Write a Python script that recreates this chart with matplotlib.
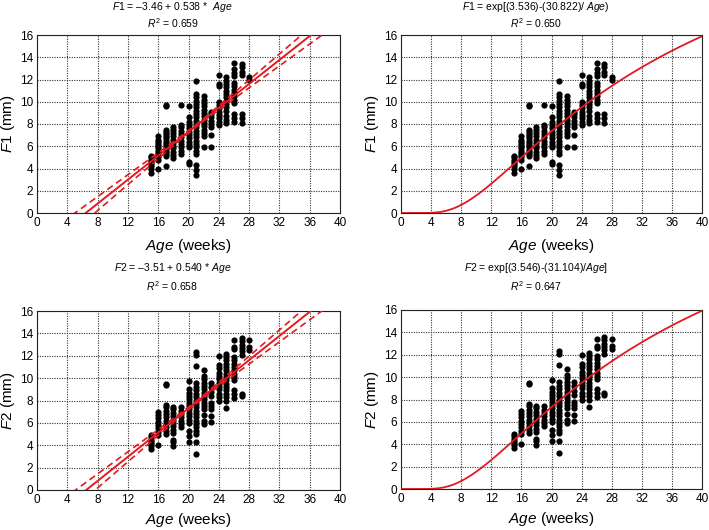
import numpy as np
import matplotlib
matplotlib.use("Agg")
import matplotlib.pyplot as plt

plt.rcParams["font.family"] = ["Liberation Sans", "DejaVu Sans"]
plt.rcParams["mathtext.fontset"] = "custom"
plt.rcParams["mathtext.rm"] = "Liberation Sans"
plt.rcParams["mathtext.it"] = "Liberation Sans:italic"

f1_by_age = {
    15: [3.6, 4.0, 4.2, 4.4, 4.6, 4.8, 5.0, 5.1],
    16: [4.0, 4.8, 5.0, 5.2, 5.4, 5.6, 5.8, 6.0, 6.2, 6.4, 6.6, 6.9],
    17: [4.2, 5.1, 5.3, 5.5, 5.7, 5.9, 6.1, 6.3, 6.5, 6.7, 6.9, 7.1, 7.3, 7.5, 9.6, 9.7],
    18: [4.9, 5.2, 5.5, 5.8, 6.0, 6.3, 6.6, 6.9, 7.2, 7.5, 7.7],
    19: [5.3, 5.6, 5.9, 6.2, 6.5, 6.8, 7.1, 7.4, 7.7, 7.9, 9.7],
    20: [4.4, 4.6, 5.9, 6.1, 6.4, 6.7, 7.0, 7.3, 7.6, 7.9, 8.2, 8.6, 9.6],
    21: [3.4, 3.9, 4.3, 5.3, 5.6, 5.9, 6.2, 6.5, 6.8, 7.1, 7.4, 7.7, 8.0, 8.3,
         8.6, 8.9, 9.2, 9.5, 9.8, 10.1, 10.4, 10.7, 11.9],
    22: [5.9, 6.9, 7.2, 7.5, 7.8, 8.1, 8.4, 8.7, 9.0, 9.3, 9.6, 9.9, 10.2, 10.5],
    23: [5.9, 7.0, 7.7, 8.0, 8.3, 8.6, 8.9, 9.1],
    24: [7.9, 8.2, 8.5, 8.8, 9.1, 9.4, 9.7, 10.0, 11.4, 11.6, 12.4],
    25: [8.1, 8.4, 8.7, 9.2, 9.5, 9.8, 10.1, 10.4, 10.7, 11.0, 11.3, 11.6, 11.9, 12.2],
    26: [8.2, 8.5, 8.9, 9.9, 10.2, 10.5, 10.8, 11.1, 11.4, 11.7, 12.3, 12.6, 12.9, 13.5],
    27: [8.1, 8.5, 8.9, 12.4, 12.7, 13.1, 13.4],
    28: [12.0, 12.2],
}

# F2 measurements (mm)
f2_by_age = {
    15: [3.7, 3.9, 4.1, 4.3, 4.5, 4.7, 4.9],
    16: [4.0, 4.9, 5.2, 5.5, 5.8, 6.1, 6.4, 6.7, 7.0],
    17: [5.0, 5.3, 5.6, 5.9, 6.2, 6.5, 6.8, 7.1, 7.4, 7.6, 9.4, 9.5],
    18: [3.9, 4.3, 4.5, 5.1, 5.4, 5.7, 6.0, 6.3, 6.6, 6.9, 7.2, 7.4],
    19: [5.6, 5.9, 6.2, 6.5, 6.8, 7.1, 7.4],
    20: [4.3, 4.8, 5.3, 6.0, 6.3, 6.6, 6.9, 7.2, 7.5, 7.8, 8.1, 8.4, 8.7, 9.0, 9.7],
    21: [3.2, 4.3, 5.0, 5.3, 5.6, 5.9, 6.2, 6.5, 6.8, 7.1, 7.4, 7.7, 8.0, 8.3,
         8.6, 8.9, 9.2, 9.6, 11.1, 12.1, 12.3],
    22: [5.9, 6.2, 6.7, 7.2, 7.5, 7.8, 8.1, 8.4, 8.7, 9.0, 9.3, 9.6, 9.9, 10.2, 10.7],
    23: [6.1, 6.6, 7.2, 7.5, 7.8, 8.4, 8.8, 9.2, 9.6],
    24: [8.0, 8.3, 8.6, 9.0, 9.3, 9.6, 9.9, 10.2, 10.5, 10.9, 11.2, 12.0],
    25: [7.3, 8.0, 8.3, 8.6, 8.9, 9.2, 9.5, 9.8, 10.1, 10.4, 10.7, 11.0, 11.3,
         11.6, 11.9, 12.2],
    26: [8.2, 8.6, 8.9, 9.8, 10.1, 10.4, 10.7, 11.0, 11.3, 11.6, 11.9, 12.6, 12.8, 13.4],
    27: [8.4, 8.6, 12.1, 12.4, 12.7, 13.0, 13.3, 13.6],
    28: [12.5, 12.8, 13.4],
}

# fitted models from the figure
lin_f1 = (-3.46, 0.538)
lin_f2 = (-3.51, 0.540)
exp_f1 = (3.536, 30.822)
exp_f2 = (3.546, 31.104)
# 95% band of the linear fit: half width = sqrt(h0^2 + (k*(x - xbar))^2)
band_xbar, band_h0, band_k = 21.0, 0.12, 0.047

red = "#e3191f"


def flatten(d):
    xs, ys = [], []
    for age, vals in d.items():
        xs += [age] * len(vals)
        ys += vals
    return np.array(xs), np.array(ys)


def style(ax, name, xlab_y):
    ax.set_xlim(0, 40)
    ax.set_ylim(0, 16)
    ax.set_xticks(range(0, 41, 4))
    ax.set_yticks(range(0, 17, 2))
    ax.grid(True, color="#333333", linestyle=(0, (1, 1.2)), linewidth=0.8)
    ax.tick_params(length=0, labelsize=8.5, pad=3)
    for s in ax.spines.values():
        s.set_linewidth(0.8)
        s.set_color("#222222")
    ax.set_xlabel(r"$\mathit{Age}$ (weeks)", fontsize=11)
    ax.set_ylabel(r"$\mathit{%s}$ (mm)" % name, fontsize=11)
    ax.xaxis.set_label_coords(0.5, xlab_y)
    ax.yaxis.set_label_coords(-0.065, 0.5)


fig = plt.figure(figsize=(7.09, 5.30), dpi=100)
W, H = 709, 530


def add_axes(x0, x1, y0, y1):
    return fig.add_axes([x0 / W, 1 - y1 / H, (x1 - x0) / W, (y1 - y0) / H])


axes = [
    add_axes(37, 340, 35, 213),
    add_axes(401, 702, 35, 213),
    add_axes(37, 340, 311, 490),
    add_axes(401, 702, 310, 489),
]

xx = np.linspace(0.01, 40, 400)
panels = [
    ("F1", f1_by_age, "lin", lin_f1, r"$\mathit{F1}$ = –3.46 + 0.538 *  $\mathit{Age}$", "0.659"),
    ("F1", f1_by_age, "exp", exp_f1, r"$\mathit{F1}$ = exp[(3.536)-(30.822)/ $\mathit{Age}$)", "0.650"),
    ("F2", f2_by_age, "lin", lin_f2, r"$\mathit{F2}$ = –3.51 + 0.540 * $\mathit{Age}$", "0.658"),
    ("F2", f2_by_age, "exp", exp_f2, r"$\mathit{F2}$ = exp[(3.546)-(31.104)/$\mathit{Age}$]", "0.647"),
]
title_y = [(7, 23), (7, 23), (268, 286), (268, 286)]
xlab_pos = [-0.135, -0.135, -0.118, -0.118]

for ax, (name, data, kind, par, eq, r2), (ty1, ty2), xl in zip(axes, panels, title_y, xlab_pos):
    x, y = flatten(data)
    ax.scatter(x, y, s=20, color="black", zorder=3, linewidths=0)
    if kind == "lin":
        a, b = par
        fit = a + b * xx
        half = np.sqrt(band_h0 ** 2 + (band_k * (xx - band_xbar)) ** 2)
        ax.plot(xx, fit, color=red, lw=1.4, zorder=4)
        ax.plot(xx, fit + half, color=red, lw=1.2, ls=(0, (4, 2.5)), zorder=4)
        ax.plot(xx, fit - half, color=red, lw=1.2, ls=(0, (4, 2.5)), zorder=4)
    else:
        a, b = par
        ax.plot(xx, np.exp(a - b / xx), color=red, lw=1.3, zorder=4)
    style(ax, name, xl)
    pos = ax.get_position()
    cx = pos.x0 + pos.width * 0.447
    fig.text(cx, 1 - ty1 / H, eq, ha="center", va="center", fontsize=7.5)
    fig.text(cx, 1 - ty2 / H, r"$R^2$ = " + r2, ha="center", va="center", fontsize=7.5)

fig.savefig("out.png", dpi=100)
